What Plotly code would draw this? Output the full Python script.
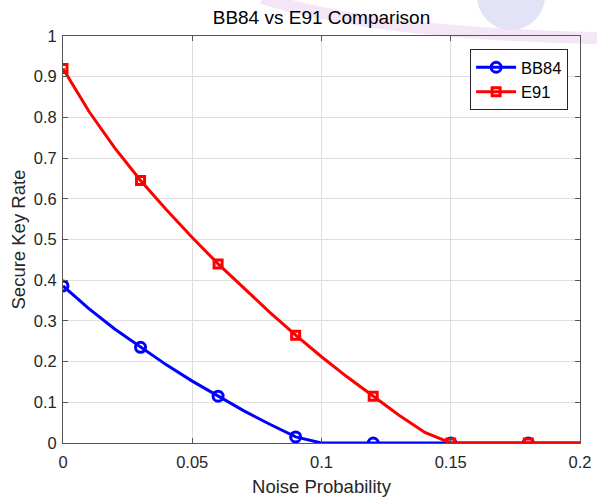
import plotly.graph_objects as go

noise = [0.00, 0.01, 0.02, 0.03, 0.04, 0.05, 0.06, 0.07, 0.08, 0.09, 0.10,
         0.11, 0.12, 0.13, 0.14, 0.15, 0.16, 0.17, 0.18, 0.19, 0.20]
bb84 = [0.386, 0.330, 0.280, 0.235, 0.192, 0.152, 0.115, 0.079, 0.046, 0.015, 0.0,
        0.0, 0.0, 0.0, 0.0, 0.0, 0.0, 0.0, 0.0, 0.0, 0.0]
e91 = [0.920, 0.815, 0.725, 0.645, 0.573, 0.505, 0.440, 0.380, 0.321, 0.265, 0.212,
       0.162, 0.115, 0.068, 0.026, 0.0, 0.0, 0.0, 0.0, 0.0, 0.0]
marker_step = 3

x_ticks = [0, 0.05, 0.1, 0.15, 0.2]
x_labels = ["0", "0.05", "0.1", "0.15", "0.2"]
y_ticks = [0, 0.1, 0.2, 0.3, 0.4, 0.5, 0.6, 0.7, 0.8, 0.9, 1]
y_labels = ["0", "0.1", "0.2", "0.3", "0.4", "0.5", "0.6", "0.7", "0.8", "0.9", "1"]

BLUE = "#0000FF"
RED = "#FF0000"
FONT = "Liberation Sans, Arial, sans-serif"

# plot-area geometry in pixels (used for decorations only)
W, H = 597, 497
ML, MR, MT, MB = 63, 17, 36, 54
PW, PH = W - ML - MR, H - MT - MB


def px(x):
    return (x - ML) / PW


def py(y):
    return (H - MB - y) / PH


fig = go.Figure()

series = [
    ("BB84", bb84, BLUE, "circle-open", 10),
    ("E91", e91, RED, "square-open", 8),
]
for name, vals, col, sym, ms in series:
    fig.add_trace(go.Scatter(x=noise, y=vals, mode="lines",
                             line=dict(color=col, width=3),
                             showlegend=False, hoverinfo="skip"))
    fig.add_trace(go.Scatter(x=noise[::marker_step], y=vals[::marker_step], mode="markers",
                             marker=dict(symbol=sym, size=ms, color=col,
                                         line=dict(color=col, width=3)),
                             showlegend=False))
    fig.add_trace(go.Scatter(x=[None], y=[None], mode="lines+markers", name=name,
                             line=dict(color=col, width=3),
                             marker=dict(symbol=sym, size=ms, color=col,
                                         line=dict(color=col, width=3))))

axis_common = dict(
    automargin=False,
    showline=True, linecolor="#555555", linewidth=1, mirror="ticks",
    ticks="inside", ticklen=5, tickcolor="#555555", tickwidth=1,
    showgrid=True, gridcolor="#dedede", gridwidth=1, zeroline=False,
    tickfont=dict(family=FONT, size=16.5, color="#262626"),
)

# faint background watermark (decorative)
shapes = [
    dict(type="path", xref="paper", yref="paper", layer="below",
         path=f"M {px(262)} {py(-2)} Q {px(380)} {py(34)} {px(597)} {py(38)}",
         line=dict(color="rgba(215,160,225,0.28)", width=12)),
    dict(type="circle", xref="paper", yref="paper", layer="below",
         x0=px(477), x1=px(545), y0=py(-38), y1=py(30),
         fillcolor="rgba(218,218,246,0.75)", line=dict(width=0)),
]

fig.update_layout(
    width=W, height=H,
    margin=dict(l=ML, r=MR, t=MT, b=MB),
    paper_bgcolor="white", plot_bgcolor="white",
    shapes=shapes,
    title=dict(text="BB84 vs E91 Comparison", x=0.5385, xanchor="center",
               y=1 - 17 / H, yanchor="middle",
               font=dict(family=FONT, size=19, color="#000000")),
    xaxis=dict(range=[0, 0.2], tickvals=x_ticks, ticktext=x_labels,
               ticklabelstandoff=4,
               title=dict(text="Noise Probability",
                          font=dict(family=FONT, size=18.5, color="#262626")),
               **axis_common),
    yaxis=dict(range=[0, 1], tickvals=y_ticks, ticktext=y_labels,
               ticklabelstandoff=2,
               **axis_common),
    annotations=[dict(text="Secure Key Rate", textangle=-90,
                      xref="paper", yref="paper", x=px(18), y=0.5,
                      xanchor="center", yanchor="middle", showarrow=False,
                      font=dict(family=FONT, size=18.5, color="#262626"))],
    legend=dict(x=0.977, xanchor="right", y=0.968, yanchor="top",
                bgcolor="white", bordercolor="#262626", borderwidth=1,
                font=dict(family=FONT, size=16.5, color="#000000"),
                tracegroupgap=0, itemwidth=40),
)

fig.write_html("out.html")
